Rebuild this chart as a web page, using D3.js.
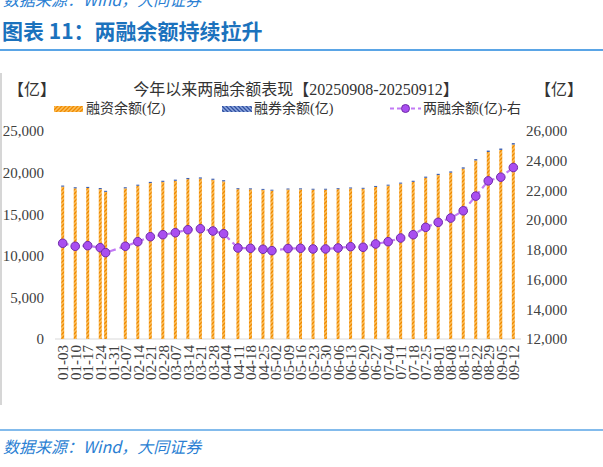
<!DOCTYPE html>
<html>
<head>
<meta charset="utf-8">
<script src="https://cdn.jsdelivr.net/npm/d3@7"></script>
<style>
  html, body { margin: 0; padding: 0; background: #fff; }
  svg { display: block; }
</style>
</head>
<body>
<svg id="chart" width="603" height="467"></svg>
<script>
// ---- data (亿元) ----
const dates = ["2025-01-03","2025-01-10","2025-01-17","2025-01-24","2025-01-27",
  "2025-02-07","2025-02-14","2025-02-21","2025-02-28",
  "2025-03-07","2025-03-14","2025-03-21","2025-03-28",
  "2025-04-03","2025-04-11","2025-04-18","2025-04-25","2025-04-30",
  "2025-05-09","2025-05-16","2025-05-23","2025-05-30",
  "2025-06-06","2025-06-13","2025-06-20","2025-06-27",
  "2025-07-04","2025-07-11","2025-07-18","2025-07-25",
  "2025-08-01","2025-08-08","2025-08-15","2025-08-22","2025-08-29",
  "2025-09-05","2025-09-12"];
const financing = [18308,18108,18148,18015,17682,
  18109,18415,18747,18882,
  19014,19213,19280,19128,
  18949,18005,17987,17922,17829,
  17972,17988,17942,17943,
  18009,18094,18054,18274,
  18425,18668,18885,19376,
  19707,19991,20475,21457,22479,
  22724,23371];
const securitiesLending = [135,133,134,132,130,
  132,135,138,138,
  140,142,142,140,
  138,122,120,118,117,
  118,119,118,117,
  118,120,120,122,
  125,130,135,140,
  145,150,155,160,165,
  168,172];
const marginTotal = [18443,18241,18282,18147,17812,
  18241,18550,18885,19020,
  19154,19355,19422,19268,
  19087,18127,18107,18040,17946,
  18090,18107,18060,18060,
  18127,18214,18174,18396,
  18550,18798,19020,19516,
  19852,20141,20630,21617,22644,
  22892,23543];
const xTickLabels = ["01-03","01-10","01-17","01-24","01-31","02-07","02-14","02-21","02-28",
  "03-07","03-14","03-21","03-28","04-04","04-11","04-18","04-25","05-02","05-09",
  "05-16","05-23","05-30","06-06","06-13","06-20","06-27","07-04","07-11","07-18",
  "07-25","08-01","08-08","08-15","08-22","08-29","09-05","09-12"];
const leftTicks = [0,5000,10000,15000,20000,25000];
const rightTicks = [12000,14000,16000,18000,20000,22000,24000,26000];
const seriesNames = ["融资余额(亿)","融券余额(亿)","两融余额(亿)-右"];

// ---- setup ----
const svg = d3.select("#chart");
const parse = d3.timeParse("%Y-%m-%d");
const rows = dates.map((d,i)=>({date:parse(d), rz:financing[i], rq:securitiesLending[i], total:marginTotal[i]}));
const tickDates = xTickLabels.map(s=>parse("2025-"+s));

const x = d3.scaleTime().domain([parse("2025-01-03"), parse("2025-09-12")]).range([62.7, 513.3]);
const yL = d3.scaleLinear().domain([0,25000]).range([339,131]);
const yR = d3.scaleLinear().domain([12000,26000]).range([339,131]);

const serif = "'Liberation Serif','Noto Sans CJK SC',serif";
const cjk = "'Noto Sans CJK SC','Noto Sans',sans-serif";

// patterns
const defs = svg.append("defs");
const po = defs.append("pattern").attr("id","hOrange").attr("patternUnits","userSpaceOnUse")
  .attr("width",4).attr("height",4);
po.append("rect").attr("width",4).attr("height",4).attr("fill","#fbbf5c");
po.append("path").attr("d","M-1,1 l2,-2 M0,4 l4,-4 M3,5 l2,-2").attr("stroke","#f08a00").attr("stroke-width",1.3);
const pb = defs.append("pattern").attr("id","hBlue").attr("patternUnits","userSpaceOnUse")
  .attr("width",4).attr("height",4);
pb.append("rect").attr("width",4).attr("height",4).attr("fill","#8fa8e0");
pb.append("path").attr("d","M-1,3 l2,2 M0,0 l4,4 M3,-1 l2,2").attr("stroke","#2f4f9f").attr("stroke-width",1.3);

// ---- header ----
svg.append("text").attr("x",3).attr("y",6).attr("font-family",cjk).attr("font-size",16)
  .attr("font-style","italic").attr("fill","#2b7fd3").text("数据来源：Wind，大同证券");
svg.append("text").attr("x",2).attr("y",39).attr("font-family",cjk).attr("font-size",21)
  .attr("font-weight","bold").attr("fill","#1b72bd").text("图表 11：两融余额持续拉升");
svg.append("line").attr("x1",0).attr("x2",603).attr("y1",50).attr("y2",50)
  .attr("stroke","#5aa5e6").attr("stroke-width",2);

// chart frame left border
svg.append("line").attr("x1",1).attr("x2",1).attr("y1",73).attr("y2",405)
  .attr("stroke","#c8c8c8").attr("stroke-width",1.5);

// chart title & units
svg.append("text").attr("x",296).attr("y",95).attr("text-anchor","middle").attr("font-family",serif)
  .attr("font-size",16).attr("fill","#333").text("今年以来两融余额表现【20250908-20250912】");
svg.append("text").attr("x",8).attr("y",95).attr("font-family",serif).attr("font-size",16)
  .attr("fill","#333").text("【亿】");
svg.append("text").attr("x",535).attr("y",95).attr("font-family",serif).attr("font-size",16)
  .attr("fill","#333").text("【亿】");

// legend
const lg = svg.append("g");
lg.append("rect").attr("x",54).attr("y",106).attr("width",29).attr("height",6).attr("fill","url(#hOrange)");
lg.append("text").attr("x",86).attr("y",113).attr("font-family",serif).attr("font-size",14).attr("fill","#333").text(seriesNames[0]);
lg.append("rect").attr("x",222).attr("y",106).attr("width",30).attr("height",6).attr("fill","url(#hBlue)");
lg.append("text").attr("x",254).attr("y",113).attr("font-family",serif).attr("font-size",14).attr("fill","#333").text(seriesNames[1]);
lg.append("line").attr("x1",390).attr("x2",421).attr("y1",108.5).attr("y2",108.5)
  .attr("stroke","#c27af5").attr("stroke-width",2).attr("stroke-dasharray","4,3");
lg.append("circle").attr("cx",405.5).attr("cy",108.5).attr("r",4).attr("fill","#a94ef0").attr("stroke","#6f2aa8");
lg.append("text").attr("x",423).attr("y",113).attr("font-family",serif).attr("font-size",14).attr("fill","#333").text(seriesNames[2]);

// baseline
svg.append("line").attr("x1",55).attr("x2",521).attr("y1",yL(0)).attr("y2",yL(0))
  .attr("stroke","#d9d9d9").attr("stroke-width",1);

// bars
const bw = 3;
svg.append("g").selectAll("rect").data(rows).join("rect")
  .attr("x",d=>x(d.date)-bw/2).attr("width",bw)
  .attr("y",d=>yL(d.rz)).attr("height",d=>yL(0)-yL(d.rz))
  .attr("fill","url(#hOrange)");
svg.append("g").selectAll("rect").data(rows).join("rect")
  .attr("x",d=>x(d.date)-bw/2).attr("width",bw)
  .attr("y",d=>yL(d.rz+d.rq)).attr("height",d=>yL(d.rz)-yL(d.rz+d.rq))
  .attr("fill","#3d5fb0");

// line
const line = d3.line().x(d=>x(d.date)).y(d=>yR(d.total));
svg.append("path").datum(rows).attr("d",line).attr("fill","none")
  .attr("stroke","#c27af5").attr("stroke-width",2.2).attr("stroke-dasharray","6,4");
svg.append("g").selectAll("circle").data(rows).join("circle")
  .attr("cx",d=>x(d.date)).attr("cy",d=>yR(d.total)).attr("r",4.3)
  .attr("fill","#a94ef0").attr("stroke","#6f2aa8").attr("stroke-width",1);

// axes
const fmt = d3.format(",");
const gL = svg.append("g").attr("transform","translate(47,0)")
  .call(d3.axisLeft(yL).tickValues(leftTicks).tickFormat(fmt).tickSize(0).tickPadding(3));
gL.select(".domain").remove();
gL.selectAll("text").attr("font-family",serif).attr("font-size",15).attr("fill","#404040");

const gR = svg.append("g").attr("transform","translate(523,0)")
  .call(d3.axisRight(yR).tickValues(rightTicks).tickFormat(fmt).tickSize(0).tickPadding(3));
gR.select(".domain").remove();
gR.selectAll("text").attr("font-family",serif).attr("font-size",15).attr("fill","#404040");

const gX = svg.append("g").attr("transform",`translate(0,${yL(0)})`)
  .call(d3.axisBottom(x).tickValues(tickDates).tickFormat(d3.timeFormat("%m-%d")).tickSize(0));
gX.select(".domain").remove();
gX.selectAll("text").attr("font-family",serif).attr("font-size",15).attr("fill","#404040")
  .attr("text-anchor","end").attr("transform","rotate(-90)")
  .attr("x",-6).attr("y",0).attr("dy","0.35em");

// footer
svg.append("line").attr("x1",0).attr("x2",603).attr("y1",430).attr("y2",430)
  .attr("stroke","#5aa5e6").attr("stroke-width",1.5);
svg.append("text").attr("x",3).attr("y",453).attr("font-family",cjk).attr("font-size",16)
  .attr("font-style","italic").attr("fill","#2b7fd3").text("数据来源：Wind，大同证券");
</script>
</body>
</html>
